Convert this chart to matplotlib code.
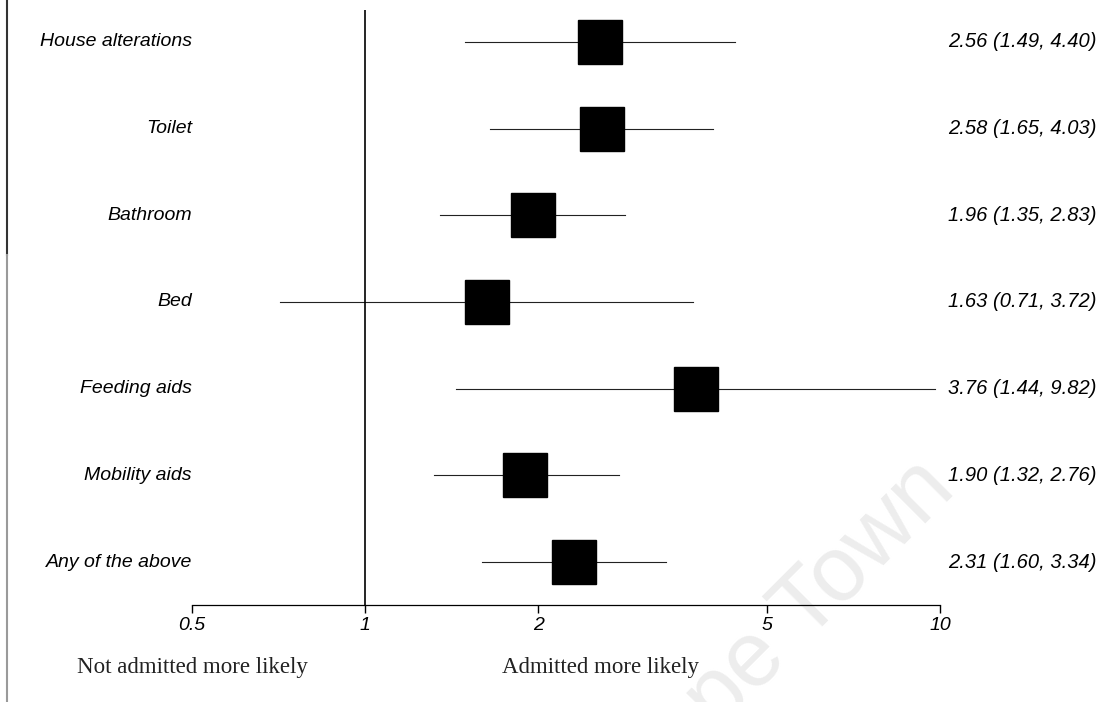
import matplotlib.pyplot as plt
import matplotlib.ticker as mticker
import matplotlib.transforms as mtransforms
from matplotlib.lines import Line2D

# data
labels = ['House alterations', 'Toilet', 'Bathroom', 'Bed',
          'Feeding aids', 'Mobility aids', 'Any of the above']
estimate = [2.56, 2.58, 1.96, 1.63, 3.76, 1.90, 2.31]
lower = [1.49, 1.65, 1.35, 0.71, 1.44, 1.32, 1.60]
upper = [4.40, 4.03, 2.83, 3.72, 9.82, 2.76, 3.34]
ticks = [0.5, 1, 2, 5, 10]
tick_labels = ['0.5', '1', '2', '5', '10']

W, H = 1118, 702
fig = plt.figure(figsize=(W / 100, H / 100), dpi=100)
ax = fig.add_axes([192 / W, 1 - 605 / H, (940 - 192) / W, (605 - 10) / H])
ax.set_facecolor('none')

sans = 'Liberation Sans'
serif = 'Liberation Serif'
fs = 14

right_tr = mtransforms.blended_transform_factory(fig.transFigure, ax.transData)

ys = list(range(len(labels)))
for y, est, lo, hi in zip(ys, estimate, lower, upper):
    ax.plot([lo, hi], [y, y], color='#222222', lw=0.8, zorder=2)
    ax.plot(est, y, marker='s', markersize=32, color='black', zorder=3)
    ax.text(0.0, y, labels[y], transform=ax.get_yaxis_transform(),
            ha='right', va='center', fontsize=fs, style='italic', family=sans)
    ax.text(1097 / W, y, f'{est:.2f} ({lo:.2f}, {hi:.2f})', transform=right_tr,
            ha='right', va='center', fontsize=14.5, style='italic', family=sans)

ax.axvline(1, color='black', lw=1.2, zorder=2)

ax.set_xscale('log')
ax.set_xlim(0.5, 10)
ax.set_ylim(6.496, -0.369)
ax.xaxis.set_major_locator(mticker.FixedLocator(ticks))
ax.xaxis.set_major_formatter(mticker.FixedFormatter(tick_labels))
ax.xaxis.set_minor_locator(mticker.NullLocator())
ax.set_yticks([])
for s in ['top', 'right', 'left']:
    ax.spines[s].set_visible(False)
ax.spines['bottom'].set_linewidth(0.9)
ax.tick_params(axis='x', direction='out', length=6, width=1, pad=3, labelsize=fs)
for t in ax.get_xticklabels():
    t.set_fontstyle('italic')
    t.set_family(sans)

# bottom captions
fig.text(192 / W, 1 - 668 / H, 'Not admitted more likely', ha='center', va='center',
         fontsize=16.5, family=serif, color='#222222')
fig.text(601 / W, 1 - 668 / H, 'Admitted more likely', ha='center', va='center',
         fontsize=16.5, family=serif, color='#222222')

# scanned page edge on the left
fig.add_artist(Line2D([7 / W, 7 / W], [1, 1 - 255 / H], color='#333333', lw=1.5))
fig.add_artist(Line2D([7 / W, 7 / W], [1 - 255 / H, 0], color='#9a9a9a', lw=1.5))

# faint watermark
fig.text(958 / W, 1 - 492 / H, 'Cape Town', rotation=45, rotation_mode='anchor',
         ha='right', va='baseline', fontsize=66, family=sans, color='#ededed',
         zorder=-1)

fig.savefig('out.png', dpi=100)
